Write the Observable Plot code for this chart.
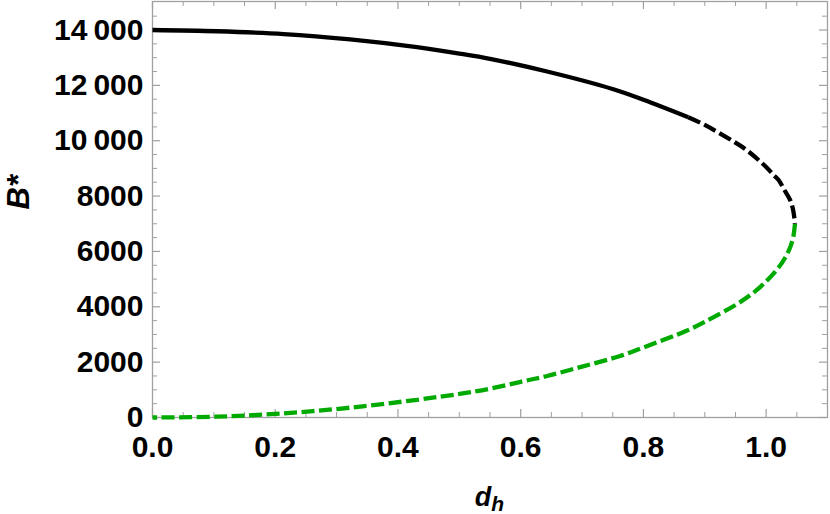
<!DOCTYPE html>
<html>
<head>
<meta charset="utf-8">
<script src="https://cdn.jsdelivr.net/npm/d3@7"></script>
<script src="https://cdn.jsdelivr.net/npm/@observablehq/plot@0.6"></script>
<style>
  html, body { margin: 0; padding: 0; background: #fff; }
  #chart { width: 830px; height: 514px; }
</style>
</head>
<body>
<div id="chart"></div>
<script>
// ---- data ----
const upperSolidD = [0, 0.105, 0.214, 0.322, 0.431, 0.5, 0.55, 0.643, 0.751, 0.8, 0.873];
const upperSolidB = [14000, 13955, 13855, 13660, 13380, 13150, 12960, 12500, 11860, 11480, 10850];
const upperDashD = [0.873, 0.9, 0.95, 0.969, 1.0, 1.012, 1.02, 1.03, 1.039, 1.044, 1.047];
const upperDashB = [10850, 10570, 9930, 9650, 9050, 8760, 8590, 8210, 7860, 7500, 7000];
const lowerDashD = [1.047, 1.044, 1.039, 1.031, 1.02, 1.001, 0.98, 0.952, 0.9, 0.871, 0.8, 0.762, 0.7, 0.643, 0.6, 0.55, 0.5, 0.431, 0.322, 0.214, 0.105, 0];
const lowerDashB = [7000, 6500, 6140, 5770, 5410, 4940, 4520, 4090, 3460, 3140, 2530, 2220, 1840, 1500, 1290, 1040, 852, 640, 355, 150, 30, 0];

const xMajor = [0, 0.2, 0.4, 0.6, 0.8, 1.0];
const xMinor = [0.05, 0.1, 0.15, 0.25, 0.3, 0.35, 0.45, 0.5, 0.55, 0.65, 0.7, 0.75, 0.85, 0.9, 0.95, 1.05];
const yMajor = [0, 2000, 4000, 6000, 8000, 10000, 12000, 14000];
const yMinor = [500, 1000, 1500, 2500, 3000, 3500, 4500, 5000, 5500, 6500, 7000, 7500, 8500, 9000, 9500, 10500, 11000, 11500, 12500, 13000, 13500, 14500];
const yTickLabels = ["0", "2000", "4000", "6000", "8000", "10\u2009000", "12\u2009000", "14\u2009000"];
const xTickLabels = ["0.0", "0.2", "0.4", "0.6", "0.8", "1.0"];

const toRows = (D, B) => D.map((d, i) => ({d, B: B[i]}));
const upperSolid = toRows(upperSolidD, upperSolidB);
const upperDash = toRows(upperDashD, upperDashB);
const lowerDash = toRows(lowerDashD, lowerDashB);

const W = 830, H = 514;
const mL = 152, mR = 3, mT = 1, mB = 97;
const innerW = W - mL - mR, innerH = H - mT - mB;
const gray = "#a0a0a0";
const green = "#00aa00";
const dash = "13 4.5";
const lw = 4.3;

const plot = Plot.plot({
  width: W, height: H,
  marginLeft: mL, marginRight: mR, marginTop: mT, marginBottom: mB,
  style: {fontFamily: "'Liberation Sans', Arial, sans-serif", fontWeight: "bold", fontSize: "29px", color: "#000", background: "#fff", overflow: "visible"},
  x: {domain: [0, 1.1], axis: null},
  y: {domain: [0, 15030], axis: null},
  marks: [
    Plot.frame({stroke: gray, strokeWidth: 1.3}),
    // inward ticks on all four sides
    Plot.ruleX(xMajor, {x: d => d, insetTop: innerH - 8, stroke: gray, strokeWidth: 1.2}),
    Plot.ruleX(xMinor, {x: d => d, insetTop: innerH - 5, stroke: gray, strokeWidth: 1}),
    Plot.ruleX(xMajor, {x: d => d, insetBottom: innerH - 8, stroke: gray, strokeWidth: 1.2}),
    Plot.ruleX(xMinor, {x: d => d, insetBottom: innerH - 5, stroke: gray, strokeWidth: 1}),
    Plot.ruleY(yMajor, {y: d => d, insetRight: innerW - 8, stroke: gray, strokeWidth: 1.2}),
    Plot.ruleY(yMinor, {y: d => d, insetRight: innerW - 5, stroke: gray, strokeWidth: 1}),
    Plot.ruleY(yMajor, {y: d => d, insetLeft: innerW - 8, stroke: gray, strokeWidth: 1.2}),
    Plot.ruleY(yMinor, {y: d => d, insetLeft: innerW - 5, stroke: gray, strokeWidth: 1}),
    // tick labels
    Plot.axisX(xMajor, {tickSize: 0, tickPadding: 18, tickFormat: (d, i) => xTickLabels[i], fontSize: 30, fontWeight: "bold", fill: "#000", label: null}),
    Plot.axisY(yMajor, {tickSize: 0, tickPadding: 9, tickFormat: (d, i) => yTickLabels[i], fontSize: 30, fontWeight: "bold", fill: "#000", label: null}),
    // curves
    Plot.line(lowerDash, {x: "d", y: "B", stroke: green, strokeWidth: lw, strokeDasharray: dash, strokeLinecap: "butt", strokeLinejoin: "miter", curve: "catmull-rom"}),
    Plot.line(upperDash, {x: "d", y: "B", stroke: "#000", strokeWidth: lw, strokeDasharray: dash, strokeLinecap: "butt", strokeLinejoin: "miter", curve: "catmull-rom"}),
    Plot.line(upperSolid, {x: "d", y: "B", stroke: "#000", strokeWidth: lw, strokeLinecap: "butt", curve: "catmull-rom"}),
    // y axis label
    Plot.text(["B*"], {frameAnchor: "left", dx: -133, rotate: -90, text: d => d, fontSize: 31, fontStyle: "italic", fontWeight: "bold", fill: "#000"})
  ]
});

document.getElementById("chart").appendChild(plot);

// x axis label with subscript
const sx = plot.scale("x");
const cx = (sx.range[0] + sx.range[1]) / 2;
const svg = d3.select(plot);
const lab = svg.append("text")
  .attr("x", cx)
  .attr("y", 506)
  .attr("text-anchor", "middle")
  .attr("font-family", "'Liberation Sans', Arial, sans-serif")
  .attr("font-weight", "bold")
  .attr("font-style", "italic")
  .attr("font-size", 27)
  .attr("fill", "#000");
lab.append("tspan").text("d");
lab.append("tspan").attr("font-size", 21).attr("dy", 5).text("h");
</script>
</body>
</html>
